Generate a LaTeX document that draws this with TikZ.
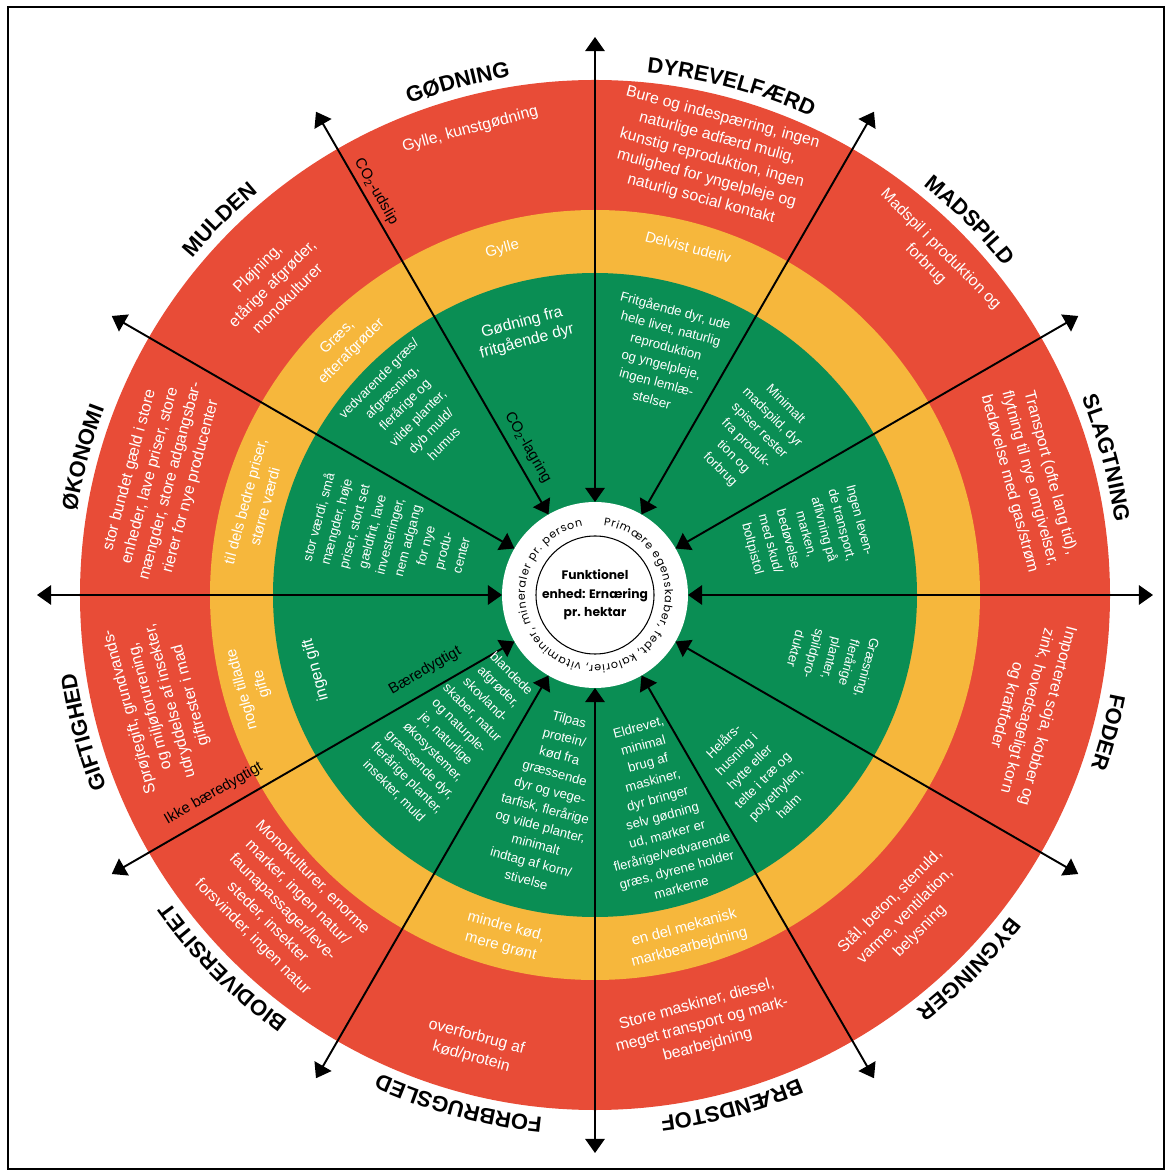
\documentclass[tikz,border=0pt]{standalone}
\usepackage{fontspec}
\setmainfont{Liberation Sans}
\newfontfamily\hubfont{Poppins}
\usetikzlibrary{arrows.meta, decorations.text}

\definecolor{ringred}{RGB}{232,76,55}
\definecolor{ringyellow}{RGB}{246,183,60}
\definecolor{ringgreen}{RGB}{10,142,84}

\begin{document}
\begin{tikzpicture}[
    x=0.02cm, y=0.02cm,
    % Styles for the texts in each ring
    redtxt/.style={text=white, align=center, inner sep=0pt, font=\fontsize{9}{12}\selectfont},
    yellowtxt/.style={text=white, align=center, inner sep=0pt, font=\fontsize{8.5}{11.5}\selectfont},
    greentxt/.style={text=white, align=center, inner sep=0pt, font=\fontsize{7.5}{10.5}\selectfont},
    bigtxt/.style={text=white, align=center, inner sep=0pt, font=\fontsize{9}{11}\selectfont},
    note/.style={text=black, inner sep=0pt, font=\fontsize{8.5}{10}\selectfont},
    spoke/.style={line width=1.1pt, >={Triangle[length=8pt, width=11pt]}, <->},
    ringlabel/.style={decorate, decoration={text along path, text align=center,
        text={|\fontsize{12.5}{14}\selectfont\bfseries|#1}}}
]

% Frame and picture size
\useasboundingbox (-595,-580) rectangle (576,595);
\draw[line width=1pt] (-587,588) rectangle (569,-574);

% The three rings
\fill[ringred]    (0,0) circle[radius=515];
\fill[ringyellow] (0,0) circle[radius=385];
\fill[ringgreen]  (0,0) circle[radius=322];

% Hub in the middle
\node[circle, fill=white, minimum size=3.72cm, inner sep=0pt, outer sep=0pt] (hub) at (0,0) {};
\draw[line width=0.6pt] (0,0) circle[radius=59];
\node[font=\hubfont\bfseries\fontsize{7}{10.5}\selectfont, align=center] (unit) at (0,0) {Funktionel\\enhed: Ernæring\\pr. hektar};
\path[decorate, decoration={text along path, text align={fit to path},
    text={|\hubfont\fontsize{6.3}{7}\selectfont|Primære egenskaber, fedt, kalorier, vitaminer, mineraler pr. person}}]
    (83:70) arc[start angle=83, end angle=-260, radius=70];

% Spokes from the hub out past the red ring
\foreach \a in {0,30,...,330} {
    \coordinate (tip\a) at (\a:558);
    \draw[spoke] (hub.\a) -- (tip\a);
}

% Category names round the outside
\path[ringlabel={GØDNING}]       (120:525) arc[start angle=120, end angle=90, radius=525];
\path[ringlabel={DYREVELFÆRD}]   (90:525) arc[start angle=90, end angle=60, radius=525];
\path[ringlabel={MADSPILD}]      (60:525) arc[start angle=60, end angle=30, radius=525];
\path[ringlabel={SLAGTNING}]     (30:525) arc[start angle=30, end angle=0, radius=525];
\path[ringlabel={FODER}]         (0:525) arc[start angle=0, end angle=-30, radius=525];
\path[ringlabel={BYGNINGER}]     (-30:525) arc[start angle=-30, end angle=-60, radius=525];
\path[ringlabel={BRÆNDSTOF}]     (-60:525) arc[start angle=-60, end angle=-90, radius=525];
\path[ringlabel={FORBRUGSLED}]   (-90:525) arc[start angle=-90, end angle=-120, radius=525];
\path[ringlabel={BIODIVERSITET}] (-120:525) arc[start angle=-120, end angle=-150, radius=525];
\path[ringlabel={GIFTIGHED}]     (-150:525) arc[start angle=-150, end angle=-180, radius=525];
\path[ringlabel={ØKONOMI}]       (180:525) arc[start angle=180, end angle=150, radius=525];
\path[ringlabel={MULDEN}]        (150:525) arc[start angle=150, end angle=120, radius=525];

% Red ring
\node[redtxt, rotate=15]   (gdR) at (105:482) {Gylle, kunstgødning};
\node[redtxt, rotate=-15]  (dvR) at (75:452) {Bure og indespærring, ingen\\naturlige adfærd mulig,\\kunstig reproduktion, ingen\\mulighed for yngelpleje og\\naturlig social kontakt};
\node[redtxt, rotate=-45]  (msR) at (45:478) {Madspil i produktion og\\forbrug};
\node[redtxt, rotate=-75]  (slR) at (15:450) {Transport (ofte lang tid),\\flytning til nye omgivelser,\\bedøvelse med gas/strøm};
\node[redtxt, rotate=-105] (fdR) at (-15:447) {Importeret soja, kobber og\\zink, hovedsageligt korn\\og kraftfoder};
\node[redtxt, rotate=45]   (bgR) at (-46:446) {Stål, beton, stenuld,\\varme, ventilation,\\belysning};
\node[redtxt, rotate=15]   (bsR) at (-76:443) {Store maskiner, diesel,\\meget transport og mark-\\bearbejdning};
\node[redtxt, rotate=-15]  (fbR) at (-105:468) {overforbrug af\\kød/protein};
\node[redtxt, rotate=-45]  (bdR) at (-135:442) {Monokulturer, enorme\\marker, ingen natur/\\faunapassager/leve-\\steder, insekter\\forsvinder, ingen natur};
\node[redtxt, rotate=105]  (gfR) at (-166:448) {Sprøjtegift, grundvands-\\og miljøforurening,\\udryddelse af insekter,\\giftrester i mad};
\node[redtxt, rotate=75]   (okR) at (165:450) {stor bundet gæld i store\\enheder, lave priser, store\\mængder, store adgangsbar-\\rierer for nye producenter};
\node[redtxt, rotate=45]   (muR) at (136:449) {Pløjning,\\etårige afgrøder,\\monokulturer};

% Yellow ring
\node[yellowtxt, rotate=15]  (gdY) at (105:358) {Gylle};
\node[yellowtxt, rotate=-15] (dvY) at (75:360) {Delvist udeliv};
\node[yellowtxt, rotate=15]  (bsY) at (-75:355) {en del mekanisk\\markbearbejdning};
\node[yellowtxt, rotate=-15] (fbY) at (-105:354) {mindre kød,\\mere grønt};
\node[yellowtxt, rotate=105] (gfY) at (-165:355) {nogle tilladte\\gifte};
\node[yellowtxt, rotate=75]  (okY) at (165:352) {til dels bedre priser,\\større værdi};
\node[yellowtxt, rotate=45]  (muY) at (135:354) {Græs,\\efterafgrøder};

% Green ring
\node[bigtxt, rotate=15]     (gdG) at (105:272) {Gødning fra\\fritgående dyr};
\node[greentxt, rotate=-15]  (dvG) at (74:250) {Fritgående dyr, ude\\hele livet, naturlig\\reproduktion\\og yngelpleje,\\ingen lemlæ-\\stelser};
\node[greentxt, rotate=-45]  (msG) at (45:223) {Minimalt\\madspild, dyr\\spiser rester\\fra produk-\\tion og\\forbrug};
\node[greentxt, rotate=-75]  (slG) at (16:219) {Ingen leven-\\de transport,\\aflivning på\\marken,\\bedøvelse\\med skud/\\boltpistol};
\node[greentxt, rotate=-105] (fdG) at (-15:245) {Græsning,\\flerårige\\planter,\\spildpro-\\dukter};
\node[greentxt, rotate=45]   (bgG) at (-48:240) {Helårs-\\husning i\\hytte eller\\telte i træ og\\polyethylen,\\halm};
\node[greentxt, rotate=15]   (bsG) at (-73:222) {Eldrevet,\\minimal\\brug af\\maskiner,\\dyr bringer\\selv gødning\\ud, marker er\\flerårige/vedvarende\\græs, dyrene holder\\markerne};
\node[greentxt, rotate=-15]  (fbG) at (-103:210) {Tilpas\\protein/\\kød fra\\græssende\\dyr og vege-\\tarfisk, flerårige\\og vilde planter,\\minimalt\\indtag af korn/\\stivelse};
\node[greentxt, rotate=-45]  (bdG) at (-136:198) {blandede\\afgrøder,\\skovland-\\skaber, natur\\og naturple-\\je, naturlige\\økosystemer,\\græssende dyr,\\flerårige planter,\\insekter, muld};
\node[bigtxt, rotate=105]    (gfG) at (-165:289) {ingen gift};
\node[greentxt, rotate=75]   (okG) at (164:214) {stor værdi, små\\mængder, høje\\priser, stort set\\gældfrit, lave\\investeringer,\\nem adgang\\for nye\\produ-\\center};
\node[greentxt, rotate=45]   (muG) at (135:260) {vedvarende græs/\\afgræsning,\\flerårige og\\vilde planter,\\dyb muld/\\humus};

% Notes along the spokes
\node[note, rotate=-60] (co2out) at (118.5:459) {CO\textsubscript{2}-udslip};
\node[note, rotate=-60] (co2in)  at (114.5:162) {CO\textsubscript{2}-lagring};
\node[note, rotate=30]  (green)  at (-156:186) {Bæredygtigt};
\node[note, rotate=30]  (grey)   at (-152.5:430) {Ikke bæredygtigt};

\end{tikzpicture}
\end{document}
